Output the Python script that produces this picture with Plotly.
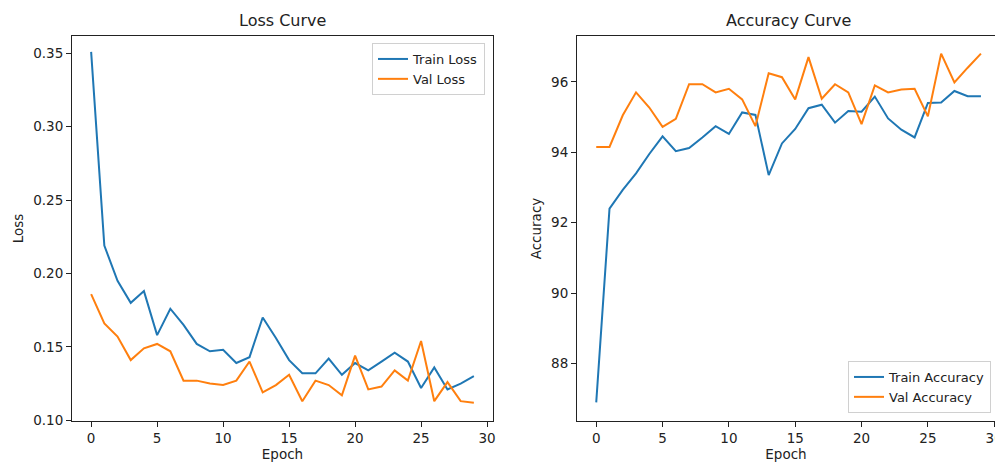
import plotly.graph_objects as go

epochs = list(range(30))

train_loss = [0.351, 0.219, 0.195, 0.180, 0.188, 0.158, 0.176, 0.165, 0.152, 0.147,
              0.148, 0.139, 0.143, 0.170, 0.156, 0.141, 0.132, 0.132, 0.142, 0.131,
              0.139, 0.134, 0.140, 0.146, 0.140, 0.122, 0.136, 0.121, 0.125, 0.130]
val_loss = [0.186, 0.166, 0.157, 0.141, 0.149, 0.152, 0.147, 0.127, 0.127, 0.125,
            0.124, 0.127, 0.140, 0.119, 0.124, 0.131, 0.113, 0.127, 0.124, 0.117,
            0.144, 0.121, 0.123, 0.134, 0.127, 0.154, 0.113, 0.126, 0.113, 0.112]

train_acc = [86.9, 92.4, 92.93, 93.4, 93.95, 94.45, 94.03, 94.12, 94.42, 94.74,
             94.52, 95.13, 95.06, 93.35, 94.25, 94.66, 95.25, 95.35, 94.84, 95.17,
             95.15, 95.58, 94.96, 94.64, 94.42, 95.4, 95.41, 95.74, 95.59, 95.59]
val_acc = [94.15, 94.15, 95.05, 95.7, 95.27, 94.72, 94.95, 95.93, 95.93, 95.7,
           95.8, 95.5, 94.74, 96.24, 96.13, 95.5, 96.7, 95.52, 95.93, 95.7,
           94.8, 95.9, 95.7, 95.78, 95.8, 95.02, 96.8, 95.98, 96.4, 96.8]

titles = ["Loss Curve", "Accuracy Curve"]
loss_ticks = [0.10, 0.15, 0.20, 0.25, 0.30, 0.35]
loss_ticktext = ["0.10", "0.15", "0.20", "0.25", "0.30", "0.35"]
acc_ticks = [88, 90, 92, 94, 96]
epoch_ticks = [0, 5, 10, 15, 20, 25, 30]

BLUE = "#1f77b4"
ORANGE = "#ff7f0e"
FONT = "DejaVu Sans"

fig = go.Figure()
fig.add_trace(go.Scatter(x=epochs, y=train_loss, mode="lines", name="Train Loss",
                         line=dict(color=BLUE, width=2), xaxis="x", yaxis="y", legend="legend"))
fig.add_trace(go.Scatter(x=epochs, y=val_loss, mode="lines", name="Val Loss",
                         line=dict(color=ORANGE, width=2), xaxis="x", yaxis="y", legend="legend"))
fig.add_trace(go.Scatter(x=epochs, y=train_acc, mode="lines", name="Train Accuracy",
                         line=dict(color=BLUE, width=2), xaxis="x2", yaxis="y2", legend="legend2"))
fig.add_trace(go.Scatter(x=epochs, y=val_acc, mode="lines", name="Val Accuracy",
                         line=dict(color=ORANGE, width=2), xaxis="x2", yaxis="y2", legend="legend2"))

axis_common = dict(showgrid=False, zeroline=False, showline=True, linecolor="#222",
                   linewidth=1, ticks="outside", ticklen=5, tickwidth=1, tickcolor="#222",
                   automargin=False, ticklabeloverflow="allow",
                   tickfont=dict(family=FONT, size=13.5, color="#222"))

W, H = 995, 464
ytop = 1 - 36 / H
ybot = 1 - 421 / H

fig.update_layout(
    template="none",
    width=W, height=H,
    margin=dict(l=0, r=0, t=0, b=0),
    paper_bgcolor="white", plot_bgcolor="white",
    font=dict(family=FONT, size=13.5, color="#222"),
    xaxis=dict(domain=[72 / W, 493 / W], range=[-1.45, 30.45], tickvals=epoch_ticks,
               mirror=True, anchor="y",
               title=dict(text="Epoch", standoff=4, font=dict(size=13.5)), **axis_common),
    yaxis=dict(domain=[ybot, ytop], range=[0.0995, 0.3618], tickvals=loss_ticks,
               ticktext=loss_ticktext, mirror=True, anchor="x",
               title=dict(text="Loss", standoff=6, font=dict(size=13.5)), **axis_common),
    xaxis2=dict(domain=[577 / W, 1.0], range=[-1.45, 30.06], tickvals=epoch_ticks,
                mirror=True, anchor="y2",
                title=dict(text="Epoch", standoff=4, font=dict(size=13.5)), **axis_common),
    yaxis2=dict(domain=[ybot, ytop], range=[86.37, 97.30], tickvals=acc_ticks,
                mirror=False, anchor="x2",
                title=dict(text="Accuracy", standoff=6, font=dict(size=13.5)), **axis_common),
    legend=dict(x=485 / W, y=1 - 43 / H, xanchor="right", yanchor="top",
                bgcolor="rgba(255,255,255,0.8)", bordercolor="#d0d0d0", borderwidth=1,
                font=dict(family=FONT, size=13, color="#222"),
                tracegroupgap=0, itemwidth=30),
    legend2=dict(x=991 / W, y=1 - 413 / H, xanchor="right", yanchor="bottom",
                 bgcolor="rgba(255,255,255,0.8)", bordercolor="#d0d0d0", borderwidth=1,
                 font=dict(family=FONT, size=13, color="#222"),
                 tracegroupgap=0, itemwidth=30),
    showlegend=True,
    annotations=[
        dict(text=titles[0], x=(72 + 493) / 2 / W, y=1 - 20 / H, xref="paper", yref="paper",
             showarrow=False, font=dict(family=FONT, size=16, color="#222"),
             xanchor="center", yanchor="middle"),
        dict(text=titles[1], x=(577 + 1000) / 2 / W, y=1 - 20 / H, xref="paper", yref="paper",
             showarrow=False, font=dict(family=FONT, size=16, color="#222"),
             xanchor="center", yanchor="middle"),
    ],
)

fig.write_html("out.html", config={"displayModeBar": False},
               post_script="document.body.style.margin='0';document.body.style.overflow='hidden';")
